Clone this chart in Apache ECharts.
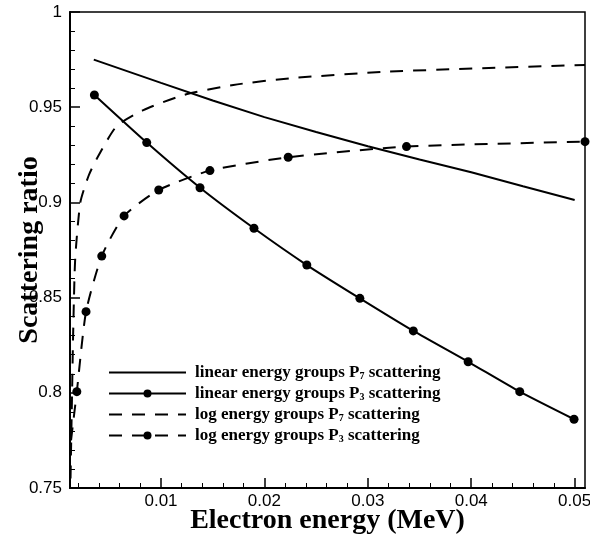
<!DOCTYPE html>
<html>
<head>
<meta charset="utf-8">
<script src="https://cdn.jsdelivr.net/npm/echarts@6/dist/echarts.min.js"></script>
<style>
  html, body { margin: 0; padding: 0; background: #fff; }
  #chart { width: 590px; height: 540px; }
</style>
</head>
<body>
<div id="chart"></div>
<script>
// --- Data ---
const linP7X = [0.0035, 0.01, 0.015, 0.02, 0.025, 0.03, 0.035, 0.04, 0.045, 0.05];
const linP7Y = [0.975, 0.9628, 0.9535, 0.9448, 0.937, 0.9295, 0.9225, 0.9158, 0.9085, 0.9013];

const linP3X = [0.00356, 0.00862, 0.01377, 0.01899, 0.0241, 0.02923, 0.0344, 0.0397, 0.04469, 0.04994];
const linP3Y = [0.9564, 0.9314, 0.9077, 0.8864, 0.8671, 0.8496, 0.8325, 0.8163, 0.8006, 0.7861];

const logP7X = [0.00125, 0.0014, 0.0015, 0.0017, 0.0022, 0.003, 0.0038, 0.0057, 0.0083, 0.0122, 0.017, 0.0225, 0.032, 0.051];
const logP7Y = [0.755, 0.80, 0.83, 0.87, 0.90, 0.914, 0.923, 0.94, 0.9485, 0.9564, 0.9617, 0.9652, 0.9687, 0.9722];

// first point is where the curve enters the frame (no marker there)
const logP3X = [0.0013, 0.00186, 0.00275, 0.00427, 0.00643, 0.00978, 0.01473, 0.0223, 0.03374, 0.051];
const logP3Y = [0.775, 0.8006, 0.8426, 0.8718, 0.8929, 0.9065, 0.9167, 0.9237, 0.9293, 0.9319];

const xMajor = [0.01, 0.02, 0.03, 0.04, 0.05];
const xMinor = [0.002, 0.004, 0.006, 0.008, 0.012, 0.014, 0.016, 0.018, 0.022, 0.024, 0.026, 0.028,
                0.032, 0.034, 0.036, 0.038, 0.042, 0.044, 0.046, 0.048];

const names = [
  'linear energy groups P7 scattering',
  'linear energy groups P3 scattering',
  'log energy groups P7 scattering',
  'log energy groups P3 scattering'
];
const hasMarker = [false, true, false, true];

function pairs(xs, ys) { return xs.map((x, i) => [x, ys[i]]); }

const X_MIN = 0.0012, X_MAX = 0.051;
const serif = '"Liberation Serif", "DejaVu Serif", serif';
const sans = '"Liberation Sans", Arial, sans-serif';
const dash = [13, 10];

const chart = echarts.init(document.getElementById('chart'));

chart.setOption({
  backgroundColor: '#fff',
  animation: false,
  grid: {
    left: 70, top: 12, right: 5, bottom: 52,
    outerBoundsMode: 'none',
    show: true, borderColor: '#000', borderWidth: 1.5
  },
  legend: {
    orient: 'vertical',
    left: 103, top: 359,
    itemWidth: 77, itemHeight: 10, itemGap: 4,
    // legend icon always draws a symbol; hide it for the plain lines
    data: names.map((n, i) => ({
      name: n,
      itemStyle: { color: hasMarker[i] ? '#000' : 'rgba(0,0,0,0)', borderWidth: 0 }
    })),
    formatter: name => {
      const m = name.match(/^(.*P)(\d)(.*)$/);
      return '{n|' + m[1] + '}{s|' + m[2] + '}{n|' + m[3] + '}';
    },
    textStyle: {
      padding: [0, 0, 0, 4],
      rich: {
        n: { fontFamily: serif, fontWeight: 'bold', fontSize: 17, color: '#000' },
        s: { fontFamily: serif, fontWeight: 'bold', fontSize: 10, color: '#000', padding: [7, 0, 0, 0] }
      }
    }
  },
  xAxis: [{
    type: 'value', min: X_MIN, max: X_MAX,
    name: 'Electron energy (MeV)',
    nameLocation: 'middle', nameGap: 19, nameMoveOverlap: false,
    nameTextStyle: { fontFamily: serif, fontWeight: 'bold', fontSize: 28, color: '#000' },
    axisLine: { lineStyle: { color: '#000', width: 2 } },
    axisTick: { inside: true, length: 10, customValues: xMajor, lineStyle: { color: '#000', width: 1.5 } },
    axisLabel: { customValues: xMajor, margin: 5, fontFamily: sans, fontSize: 17, color: '#000' },
    splitLine: { show: false }
  }, {
    type: 'value', min: X_MIN, max: X_MAX, position: 'bottom',
    axisLine: { show: false },
    axisTick: { inside: true, length: 5, customValues: xMinor, lineStyle: { color: '#000', width: 1 } },
    axisLabel: { show: false },
    splitLine: { show: false }
  }],
  yAxis: {
    type: 'value', min: 0.75, max: 1, interval: 0.05,
    name: 'Scattering ratio',
    nameLocation: 'middle', nameGap: 26, nameMoveOverlap: false,
    nameTextStyle: { fontFamily: serif, fontWeight: 'bold', fontSize: 28, color: '#000' },
    axisLine: { show: true, lineStyle: { color: '#000', width: 2 } },
    axisTick: { inside: true, length: 10, lineStyle: { color: '#000', width: 1.5 } },
    minorTick: { show: true, splitNumber: 5, length: 5, lineStyle: { color: '#000', width: 1 } },
    axisLabel: { margin: 8, fontFamily: sans, fontSize: 17, color: '#000' },
    splitLine: { show: false }
  },
  series: [{
    name: names[0], type: 'line', symbol: 'none',
    lineStyle: { color: '#000', width: 2 }, itemStyle: { color: '#000' },
    data: pairs(linP7X, linP7Y)
  }, {
    name: names[1], type: 'line', symbol: 'circle', symbolSize: 9, smooth: 0.2,
    lineStyle: { color: '#000', width: 2 }, itemStyle: { color: '#000' },
    data: pairs(linP3X, linP3Y)
  }, {
    name: names[2], type: 'line', symbol: 'none', smooth: 0.2,
    lineStyle: { color: '#000', width: 2, type: dash }, itemStyle: { color: '#000' },
    data: pairs(logP7X, logP7Y)
  }, {
    name: names[3], type: 'line', symbol: 'circle', symbolSize: 9, smooth: 0.2,
    lineStyle: { color: '#000', width: 2, type: dash }, itemStyle: { color: '#000' },
    data: pairs(logP3X, logP3Y).map((p, i) => i === 0 ? { value: p, symbol: 'none' } : p)
  }]
});
</script>
</body>
</html>
